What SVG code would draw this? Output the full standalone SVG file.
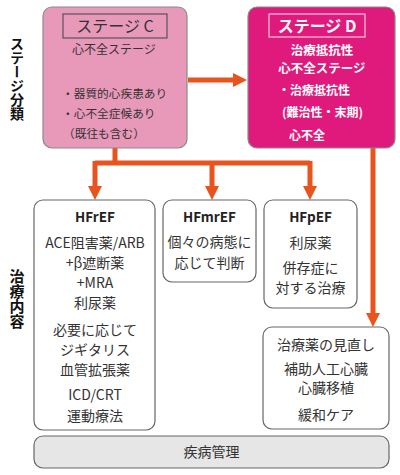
<svg xmlns="http://www.w3.org/2000/svg" width="400" height="475" viewBox="0 0 400 475">
<defs>
<style>
text{font-family:"Noto Sans CJK JP","Noto Sans",sans-serif;fill:#333}
.lbl{font-size:15px;font-weight:bold;fill:#111;writing-mode:vertical-rl;text-orientation:upright}
.box{fill:#fff;stroke:#666;stroke-width:1.2}
.c{text-anchor:middle}
.t{font-size:13.5px;font-weight:bold;fill:#222}
.b{font-size:14px}
.w{fill:#fff;font-weight:bold}
.conn{fill:none;stroke:#e8531e;stroke-width:5}
</style>
<marker id="ah" markerUnits="userSpaceOnUse" markerWidth="14" markerHeight="14" viewBox="0 0 14 14" refX="0" refY="7" orient="auto">
<path d="M0,0 L14,7 L0,14 Z" fill="#e8531e"/>
</marker>
</defs>
<rect width="400" height="475" fill="#fff"/>

<g id="label-stage">
<text class="lbl" x="17" y="37" style="font-size:14px">ステージ分類</text>
</g>
<g id="label-treatment">
<text class="lbl" x="17" y="269">治療内容</text>
</g>

<g id="connectors">
<path class="conn" d="M188,80 H233" marker-end="url(#ah)"/>
<path class="conn" d="M115,148 V163"/>
<path class="conn" d="M95,163 H310"/>
<path class="conn" d="M95,161 V186" marker-end="url(#ah)"/>
<path class="conn" d="M212,161 V186" marker-end="url(#ah)"/>
<path class="conn" d="M310,161 V186" marker-end="url(#ah)"/>
<path class="conn" d="M373,148 V313" marker-end="url(#ah)"/>
</g>

<g id="stage-c">
<rect x="43" y="7" width="144" height="141" rx="9" fill="#e899b9" stroke="#8a8a8a" stroke-width="1.2"/>
<rect x="63" y="14" width="104" height="24" fill="none" stroke="#555" stroke-width="1.2"/>
<text class="c" x="115" y="32" style="font-size:16px" fill="#222">ステージ C</text>
<text class="c" x="114" y="54" style="font-size:12px">心不全ステージ</text>
<text x="62" y="98" style="font-size:11.7px">・器質的心疾患あり</text>
<text x="62" y="118" style="font-size:11.7px">・心不全症候あり</text>
<text x="63" y="138" style="font-size:11.7px">（既往も含む）</text>
</g>

<g id="stage-d">
<rect x="248" y="7" width="147" height="141" rx="9" fill="#df1a7c" stroke="#8a8a8a" stroke-width="1.2"/>
<rect x="269" y="14" width="96" height="23" fill="none" stroke="#f5c6dc" stroke-width="1.2"/>
<text class="c w" x="317" y="32" style="font-size:16px">ステージ D</text>
<text class="c w" x="322" y="55" style="font-size:12.5px">治療抵抗性</text>
<text class="c w" x="322" y="73" style="font-size:12.5px">心不全ステージ</text>
<text class="w" x="278" y="95" style="font-size:12px">・治療抵抗性</text>
<text class="w" x="282" y="117" style="font-size:12px">(難治性・末期)</text>
<text class="w" x="289" y="140" style="font-size:12px">心不全</text>
</g>

<g id="hfref">
<rect class="box" x="34" y="200" width="121" height="230" rx="9"/>
<text class="c t" x="95" y="222">HFrEF</text>
<text class="c b" x="95" y="248">ACE阻害薬/ARB</text>
<text class="c b" x="95" y="268">+β遮断薬</text>
<text class="c b" x="95" y="288">+MRA</text>
<text class="c b" x="95" y="308">利尿薬</text>
<text class="c b" x="95" y="335">必要に応じて</text>
<text class="c b" x="95" y="355">ジギタリス</text>
<text class="c b" x="95" y="375">血管拡張薬</text>
<text class="c b" x="95" y="400">ICD/CRT</text>
<text class="c b" x="95" y="421">運動療法</text>
</g>

<g id="hfmref">
<rect class="box" x="163" y="200" width="93" height="82" rx="9"/>
<text class="c t" x="209.5" y="222">HFmrEF</text>
<text class="c b" x="209.5" y="247">個々の病態に</text>
<text class="c b" x="209.5" y="268">応じて判断</text>
</g>

<g id="hfpef">
<rect class="box" x="264" y="200" width="93" height="108" rx="9"/>
<text class="c t" x="310.5" y="222">HFpEF</text>
<text class="c b" x="310.5" y="248">利尿薬</text>
<text class="c b" x="310.5" y="273">併存症に</text>
<text class="c b" x="310.5" y="293">対する治療</text>
</g>

<g id="stage-d-treatment">
<rect class="box" x="263" y="327" width="126" height="102" rx="9"/>
<text class="c b" x="326" y="350">治療薬の見直し</text>
<text class="c b" x="326" y="374">補助人工心臓</text>
<text class="c b" x="326" y="393">心臓移植</text>
<text class="c b" x="326" y="420">緩和ケア</text>
</g>

<g id="disease-management">
<rect x="34" y="436" width="355" height="32" rx="9" fill="#e6e6e6" stroke="#666" stroke-width="1.2"/>
<text class="c b" x="211.5" y="457">疾病管理</text>
</g>
</svg>
